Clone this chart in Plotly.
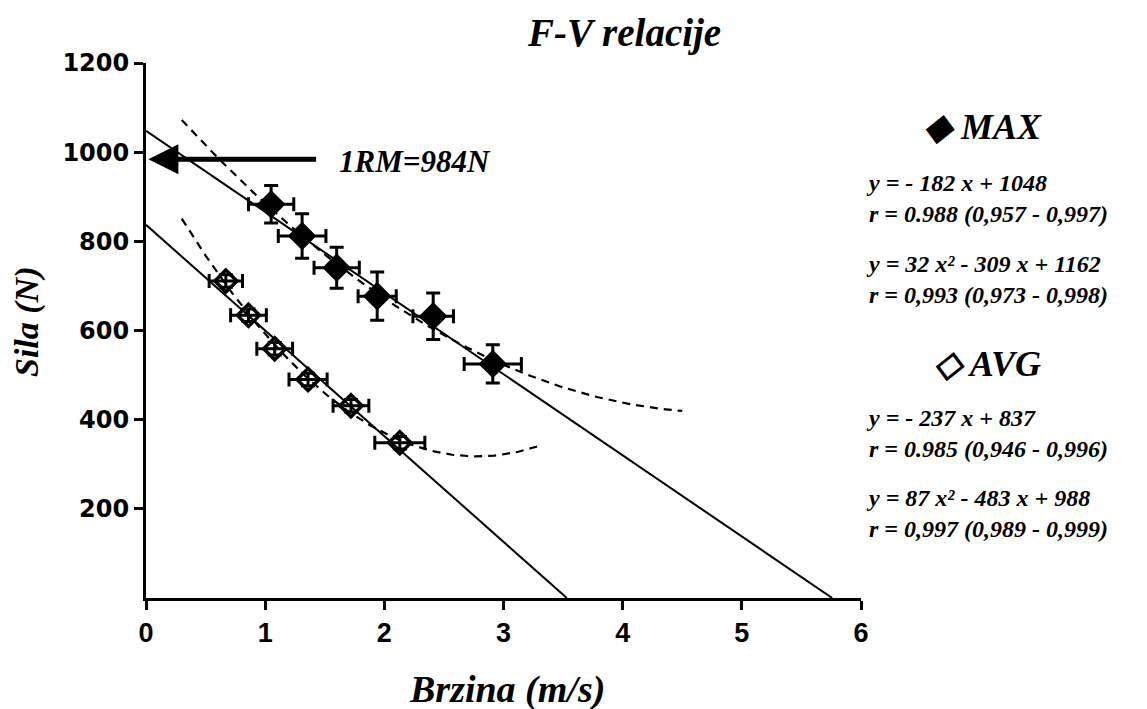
import numpy as np
import plotly.graph_objects as go

# Force-velocity data: MAX (filled) and AVG (open) velocity measurements
max_v = [1.05, 1.31, 1.60, 1.94, 2.41, 2.91]
max_f = [883, 812, 741, 677, 632, 525]
max_v_err = [0.19, 0.20, 0.19, 0.16, 0.17, 0.24]
max_f_err = [42, 50, 46, 54, 52, 43]

avg_v = [0.67, 0.86, 1.08, 1.36, 1.72, 2.13]
avg_f = [711, 634, 559, 490, 431, 348]
avg_v_err = [0.14, 0.15, 0.15, 0.16, 0.15, 0.21]
avg_f_err = [14, 14, 14, 14, 14, 14]

# Regression coefficients
max_lin = [-182, 1048]
max_quad = [32, -309, 1162]
avg_lin = [-237, 837]
avg_quad = [87, -483, 988]

one_rm = 984

x_ticks = [0, 1, 2, 3, 4, 5, 6]
y_ticks = [200, 400, 600, 800, 1000, 1200]

SERIF = "Liberation Serif, Times New Roman, serif"

fig = go.Figure()

# Linear fits (solid)
xl_max = np.linspace(0, -max_lin[1] / max_lin[0], 50)
fig.add_trace(go.Scatter(x=xl_max, y=np.polyval(max_lin, xl_max), mode="lines",
                         line=dict(color="black", width=2), showlegend=False))
xl_avg = np.linspace(0, -avg_lin[1] / avg_lin[0], 50)
fig.add_trace(go.Scatter(x=xl_avg, y=np.polyval(avg_lin, xl_avg), mode="lines",
                         line=dict(color="black", width=2), showlegend=False))

# Quadratic fits (dashed)
xq_max = np.linspace(0.3, 4.5, 120)
fig.add_trace(go.Scatter(x=xq_max, y=np.polyval(max_quad, xq_max), mode="lines",
                         line=dict(color="black", width=2.2, dash="8px,6px"), showlegend=False))
xq_avg = np.linspace(0.3, 3.3, 120)
fig.add_trace(go.Scatter(x=xq_avg, y=np.polyval(avg_quad, xq_avg), mode="lines",
                         line=dict(color="black", width=2.2, dash="8px,6px"), showlegend=False))

# Measured points with error bars
fig.add_trace(go.Scatter(
    x=avg_v, y=avg_f, mode="markers", showlegend=False,
    marker=dict(symbol="diamond-open", size=17, color="black", line=dict(width=3.5, color="black")),
    error_x=dict(type="data", array=avg_v_err, color="black", thickness=3, width=7),
    error_y=dict(type="data", array=avg_f_err, color="black", thickness=3, width=7),
))
fig.add_trace(go.Scatter(
    x=max_v, y=max_f, mode="markers", showlegend=False,
    marker=dict(symbol="diamond", size=22, color="black", line=dict(width=0)),
    error_x=dict(type="data", array=max_v_err, color="black", thickness=3, width=7),
    error_y=dict(type="data", array=max_f_err, color="black", thickness=3, width=7),
))

ann = []
# 1RM arrow
ann.append(dict(x=0.02, y=one_rm, ax=1.44, ay=one_rm, xref="x", yref="y", axref="x", ayref="y",
                showarrow=True, arrowhead=2, arrowsize=1.2, arrowwidth=5, arrowcolor="black", text=""))
ann.append(dict(x=1.60, y=one_rm - 4, xref="x", yref="y", text=f"<b><i>1RM={one_rm}N</i></b>",
                showarrow=False, xanchor="left", yanchor="middle",
                font=dict(family=SERIF, size=31, color="black")))


def px_x(p):
    return (p - 146) / 715


def px_y(p):
    return (598 - p) / 535


# Title and axis titles
ann.append(dict(x=px_x(624), y=px_y(33), xref="paper", yref="paper", text="<b><i>F-V relacije</i></b>",
                showarrow=False, xanchor="center", yanchor="middle",
                font=dict(family=SERIF, size=39, color="black")))
ann.append(dict(x=px_x(27), y=px_y(322), xref="paper", yref="paper", text="<b><i>Sila (N)</i></b>",
                showarrow=False, textangle=-90, xanchor="center", yanchor="middle",
                font=dict(family=SERIF, size=34, color="black")))
ann.append(dict(x=px_x(507), y=px_y(689), xref="paper", yref="paper", text="<b><i>Brzina (m/s)</i></b>",
                showarrow=False, xanchor="center", yanchor="middle",
                font=dict(family=SERIF, size=38, color="black")))

# Right-hand legend with regression equations
ann.append(dict(x=px_x(983), y=px_y(127), xref="paper", yref="paper",
                text="<b><i>◆ MAX</i></b>", showarrow=False, xanchor="center", yanchor="middle",
                font=dict(family=SERIF, size=36, color="black")))
ann.append(dict(x=px_x(987), y=px_y(364), xref="paper", yref="paper",
                text="<b><i>◇ AVG</i></b>", showarrow=False, xanchor="center", yanchor="middle",
                font=dict(family=SERIF, size=36, color="black")))

eq_blocks = [
    (198, "y = - 182 x + 1048", "r = 0.988 (0,957 - 0,997)"),
    (279, "y = 32 x² - 309 x + 1162", "r = 0,993 (0,973 - 0,998)"),
    (433, "y = - 237 x + 837", "r = 0.985 (0,946 - 0,996)"),
    (513, "y = 87 x² - 483 x + 988", "r = 0,997 (0,989 - 0,999)"),
]
for py, line1, line2 in eq_blocks:
    ann.append(dict(x=px_x(864), y=px_y(py), xref="paper", yref="paper",
                    text=f"<b><i>{line1}</i></b><br><b><i>{line2}</i></b>",
                    showarrow=False, xanchor="left", yanchor="middle", align="left",
                    font=dict(family=SERIF, size=24, color="black")))

fig.update_layout(
    width=1147, height=709,
    margin=dict(l=146, r=286, t=63, b=111),
    plot_bgcolor="white", paper_bgcolor="white",
    annotations=ann,
    xaxis=dict(range=[0, 6], tickvals=x_ticks, showgrid=False, zeroline=False,
               showline=True, linecolor="black", linewidth=3,
               ticks="outside", ticklen=9, tickwidth=3, tickcolor="black",
               tickfont=dict(family="Liberation Sans Narrow, Arial Narrow, Liberation Sans",
                             size=27, color="black", weight="bold")),
    yaxis=dict(range=[0, 1200], tickvals=y_ticks, showgrid=False, zeroline=False,
               showline=True, linecolor="black", linewidth=3,
               ticks="outside", ticklen=9, tickwidth=3, tickcolor="black",
               tickfont=dict(family="DejaVu Sans, Liberation Sans", size=24, color="black",
                             weight="bold")),
)

fig.write_html("out.html")
